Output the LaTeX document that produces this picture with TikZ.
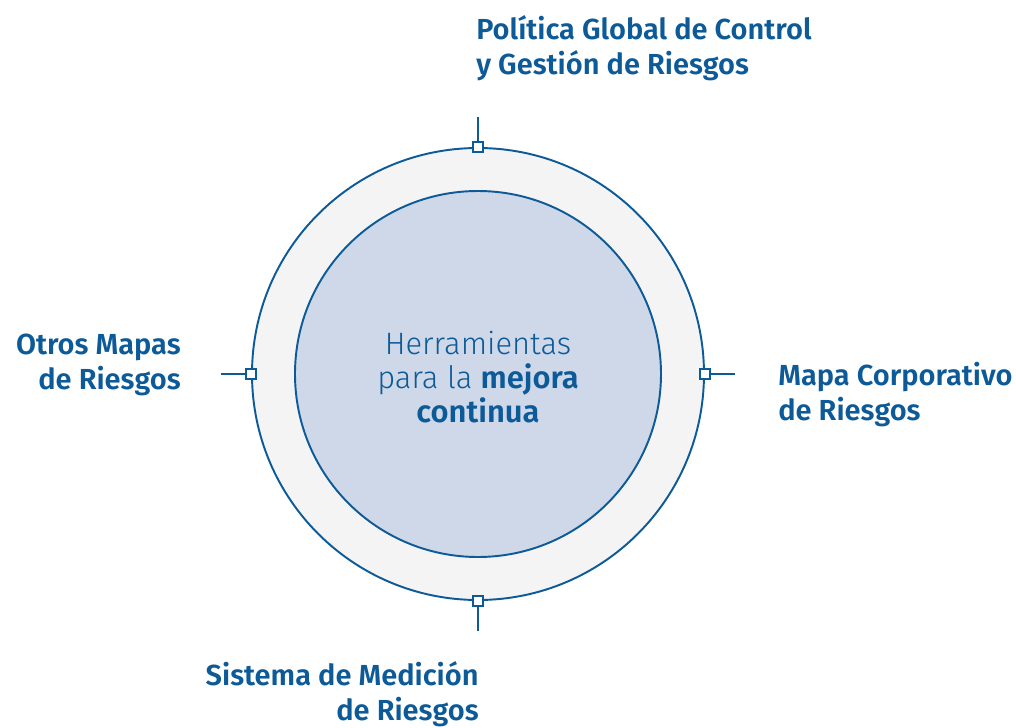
\documentclass[tikz,border=0pt]{standalone}
\usepackage{fontspec}
\setmainfont{Fira Sans}[BoldFont={Fira Sans SemiBold}]
\newfontfamily\lightfont{Fira Sans Light}
\definecolor{riskblue}{HTML}{0D5A98}
\definecolor{ringgray}{HTML}{F4F4F4}
\definecolor{corefill}{HTML}{CED8E8}

\begin{document}
\begin{tikzpicture}[
  ring/.style={circle, draw=riskblue, line width=1.1pt, inner sep=0pt},
  tick/.style={rectangle, draw=riskblue, fill=white, line width=0.9pt, minimum size=0.2cm, inner sep=0pt},
  label/.style={text=riskblue, font=\bfseries\fontsize{16.5}{20}\selectfont, inner sep=0pt}
]
\useasboundingbox (-9.56,-7.06) rectangle (10.76,7.48);

\node (outer) at (0,0) [ring, fill=ringgray, minimum size=9.04cm]{};
\node (inner) at (0,0) [ring, fill=corefill, minimum size=7.32cm]{};

\node (core) at (0,-0.06) [text=riskblue, align=center, font=\fontsize{17.6}{19.4}\selectfont]
  {{\lightfont Herramientas}\\ {\lightfont para la} \textbf{mejora}\\ \textbf{continua}};

% marks on the ring
\node (N) at (outer.north) [tick]{};
\node (E) at (outer.east) [tick]{};
\node (S) at (outer.south) [tick]{};
\node (W) at (outer.west) [tick]{};

\coordinate (N-end) at (0,5.14);
\coordinate (E-end) at (5.14,0);
\coordinate (S-end) at (0,-5.14);
\coordinate (W-end) at (-5.14,0);

\draw [riskblue, line width=0.9pt] (N) -- (N-end);
\draw [riskblue, line width=0.9pt] (E) -- (E-end);
\draw [riskblue, line width=0.9pt] (S) -- (S-end);
\draw [riskblue, line width=0.9pt] (W) -- (W-end);

\node (politica) at (-0.04,6.52) [label, anchor=west, align=left]{Política Global de Control\\y Gestión de Riesgos};
\node (mapa) at (6.0,-0.41) [label, anchor=west, align=left]{Mapa Corporativo\\de Riesgos};
\node (otros) at (-5.94,0.18) [label, anchor=east, align=right]{Otros Mapas\\de Riesgos};
\node (sistema) at (0.02,-6.40) [label, anchor=east, align=right]{Sistema de Medición\\de Riesgos};

\end{tikzpicture}
\end{document}
